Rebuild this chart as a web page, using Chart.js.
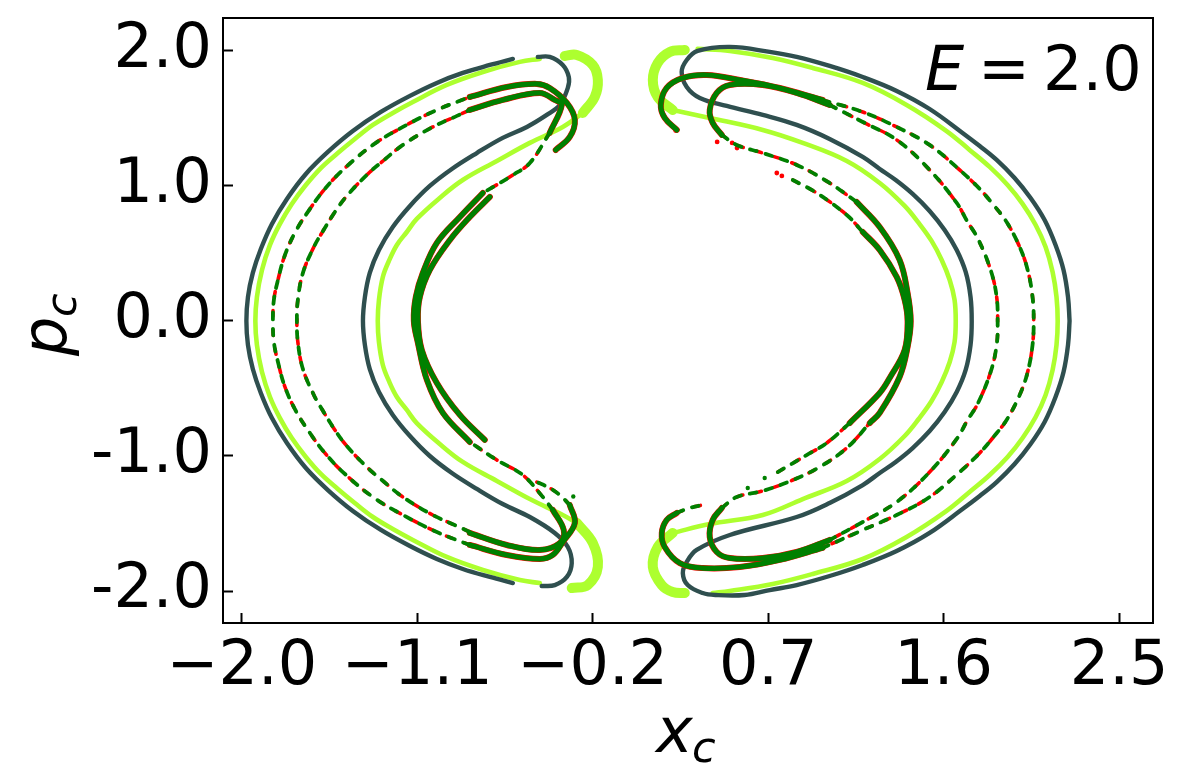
<!DOCTYPE html>
<html><head><meta charset="utf-8">
<style>html,body{margin:0;padding:0;background:#fff}canvas{display:block}</style>
<script src="https://cdn.jsdelivr.net/npm/chart.js@4"></script></head>
<body><canvas id="c" width="1189" height="784"></canvas>
<script>
const xTicks=[-2.0,-1.1,-0.2,0.7,1.6,2.5];
const yTicks=[-2.0,-1.0,0.0,1.0,2.0];

const slateLeftOuter=[[-.61,-1.941],[-.728,-1.896],[-.867,-1.837],[-1,-1.763],[-1.138,-1.667],[-1.287,-1.548],[-1.431,-1.407],[-1.559,-1.252],[-1.672,-1.089],[-1.769,-.904],[-1.846,-.719],[-1.903,-.533],[-1.944,-.356],[-1.969,-.178],[-1.977,0],[-1.969,.178],[-1.944,.356],[-1.903,.533],[-1.846,.719],[-1.769,.904],[-1.672,1.089],[-1.559,1.252],[-1.431,1.407],[-1.287,1.548],[-1.138,1.667],[-1,1.763],[-.867,1.837],[-.728,1.896],[-.61,1.941]];
const slateLeftInner=[[-.482,1.956],[-.421,1.956],[-.354,1.896],[-.323,1.807],[-.328,1.726],[-.369,1.6],[-.436,1.526],[-.538,1.437],[-.662,1.356],[-.795,1.244],[-.923,1.126],[-1.036,1],[-1.138,.852],[-1.226,.696],[-1.297,.526],[-1.344,.356],[-1.369,.178],[-1.379,0],[-1.369,-.178],[-1.344,-.356],[-1.297,-.526],[-1.226,-.696],[-1.138,-.852],[-1.036,-1],[-.923,-1.126],[-.795,-1.244],[-.662,-1.356],[-.523,-1.452],[-.395,-1.57],[-.328,-1.674],[-.308,-1.793],[-.333,-1.896],[-.395,-1.956],[-.462,-1.963]];
const slateRight=[[2.246,0],[2.238,.178],[2.215,.378],[2.174,.563],[2.118,.748],[2.046,.911],[1.964,1.059],[1.872,1.193],[1.785,1.296],[1.697,1.393],[1.528,1.57],[1.359,1.704],[1.185,1.807],[1.015,1.889],[.846,1.956],[.708,1.993],[.503,2.03],[.338,2.0],[.282,1.933],[.256,1.844],[.282,1.733],[.349,1.652],[.487,1.593],[.672,1.526],[.846,1.452],[1.015,1.348],[1.185,1.215],[1.272,1.126],[1.354,1.044],[1.441,.941],[1.528,.815],[1.605,.674],[1.667,.526],[1.713,.363],[1.738,.178],[1.744,0],[1.738,-.178],[1.713,-.363],[1.667,-.526],[1.605,-.674],[1.528,-.815],[1.441,-.941],[1.354,-1.044],[1.272,-1.126],[1.185,-1.215],[1.015,-1.348],[.846,-1.452],[.503,-1.585],[.333,-1.696],[.282,-1.785],[.262,-1.867],[.287,-1.956],[.364,-2.015],[.431,-2.03],[.579,-2.03],[.708,-1.993],[.846,-1.956],[1.015,-1.889],[1.185,-1.807],[1.359,-1.704],[1.528,-1.57],[1.697,-1.393],[1.785,-1.296],[1.872,-1.193],[1.964,-1.059],[2.046,-.911],[2.118,-.748],[2.174,-.563],[2.215,-.378],[2.238,-.178],[2.246,0]];

const limeLeftOuter=[[-.472,-1.941],[-.574,-1.919],[-.764,-1.844],[-.949,-1.748],[-1.123,-1.622],[-1.226,-1.541],[-1.328,-1.452],[-1.421,-1.348],[-1.508,-1.244],[-1.595,-1.133],[-1.672,-1.007],[-1.744,-.867],[-1.805,-.719],[-1.856,-.563],[-1.897,-.378],[-1.923,-.178],[-1.931,0],[-1.923,.178],[-1.897,.378],[-1.856,.563],[-1.805,.719],[-1.744,.867],[-1.672,1.007],[-1.595,1.133],[-1.508,1.244],[-1.421,1.348],[-1.328,1.452],[-1.226,1.541],[-1.123,1.622],[-.949,1.748],[-.764,1.844],[-.574,1.919],[-.472,1.941]];
const limeLeftInner=[[-.251,1.541],[-.354,1.437],[-.523,1.319],[-.692,1.185],[-.867,1.044],[-.985,.911],[-1.103,.756],[-1.154,.659],[-1.205,.563],[-1.246,.444],[-1.277,.326],[-1.297,.156],[-1.303,0],[-1.297,-.156],[-1.277,-.326],[-1.246,-.444],[-1.205,-.563],[-1.154,-.659],[-1.103,-.756],[-.985,-.911],[-.867,-1.044],[-.692,-1.185],[-.523,-1.319],[-.354,-1.437],[-.282,-1.496]];
const limeRight=[[.21,1.563],[.4,1.504],[.672,1.415],[.877,1.319],[1.103,1.185],[1.272,1.022],[1.4,.852],[1.472,.726],[1.538,.593],[1.59,.452],[1.631,.304],[1.656,.156],[1.662,0],[1.656,-.156],[1.631,-.304],[1.59,-.452],[1.538,-.593],[1.472,-.726],[1.4,-.852],[1.272,-1.022],[1.103,-1.185],[.877,-1.319],[.672,-1.437],[.4,-1.504],[.21,-1.57]];
const limeRightOuter=[[.338,2.015],[.503,2],[.723,1.948],[.928,1.874],[1.185,1.763],[1.41,1.6],[1.615,1.407],[1.733,1.267],[1.836,1.141],[1.928,1.007],[2.005,.867],[2.072,.711],[2.123,.548],[2.159,.363],[2.179,.178],[2.185,0],[2.179,-.178],[2.159,-.363],[2.123,-.548],[2.072,-.711],[2.005,-.867],[1.928,-1.007],[1.836,-1.141],[1.733,-1.267],[1.615,-1.407],[1.41,-1.6],[1.185,-1.763],[.928,-1.874],[.723,-1.948],[.503,-2],[.415,-2.015]];
const limeHookA=[[-.344,1.963],[-.282,1.97],[-.2,1.896],[-.174,1.785],[-.19,1.659],[-.251,1.541]];
const limeHookB=[[-.308,-1.978],[-.226,-1.956],[-.174,-1.822],[-.2,-1.644],[-.282,-1.496]];
const limeHookC=[[.272,2.007],[.195,1.993],[.133,1.911],[.108,1.785],[.133,1.659],[.21,1.563]];
const limeHookD=[[.21,-1.57],[.133,-1.674],[.108,-1.822],[.154,-1.956],[.21,-2.007],[.272,-2.015]];

const greenLeftOuterArc=[[-.831,-1.659],[-1,-1.563],[-1.174,-1.437],[-1.328,-1.304],[-1.482,-1.119],[-1.579,-.97],[-1.651,-.83],[-1.723,-.667],[-1.779,-.489],[-1.815,-.304],[-1.836,-.156],[-1.841,0],[-1.836,.156],[-1.815,.304],[-1.779,.489],[-1.723,.667],[-1.651,.83],[-1.579,.97],[-1.482,1.119],[-1.328,1.304],[-1.174,1.437],[-1,1.563],[-.831,1.659]];
const greenLeftMiddleArc=[[-.831,-1.563],[-.897,-1.519],[-1.021,-1.437],[-1.174,-1.304],[-1.282,-1.178],[-1.354,-1.089],[-1.462,-.926],[-1.523,-.807],[-1.59,-.652],[-1.631,-.548],[-1.687,-.356],[-1.713,-.156],[-1.718,0],[-1.713,.156],[-1.687,.356],[-1.631,.548],[-1.59,.652],[-1.523,.807],[-1.462,.926],[-1.354,1.089],[-1.282,1.178],[-1.174,1.304],[-1.021,1.437],[-.897,1.519],[-.831,1.563]];
const greenRightOuterArc=[[.979,1.637],[1.185,1.548],[1.359,1.437],[1.528,1.304],[1.682,1.119],[1.785,.978],[1.856,.859],[1.923,.733],[1.99,.548],[2.031,.378],[2.056,.178],[2.062,0],[2.056,-.178],[2.031,-.378],[1.99,-.548],[1.923,-.733],[1.856,-.859],[1.785,-.978],[1.682,-1.119],[1.528,-1.304],[1.359,-1.437],[1.185,-1.548],[.979,-1.681]];
const greenRightMiddleArc=[[1.015,1.6],[1.185,1.474],[1.359,1.341],[1.528,1.119],[1.667,.874],[1.723,.733],[1.774,.615],[1.841,.378],[1.872,.178],[1.877,0],[1.872,-.178],[1.841,-.378],[1.774,-.615],[1.723,-.733],[1.667,-.874],[1.528,-1.119],[1.359,-1.341],[1.185,-1.489],[1.015,-1.622]];
const greenLeftTail1=[[-.421,1.393],[-.523,1.17],[-.61,1.081],[-.764,.948]];
const greenLeftTail2=[[-.405,-1.4],[-.456,-1.304],[-.559,-1.141],[-.692,-1.03],[-.831,-.896]];
const greenLeftTail3=[[-.318,-1.363],[-.369,-1.289],[-.421,-1.237],[-.487,-1.193]];
const greenRightTail1=[[.462,1.378],[.538,1.304],[.672,1.244],[.846,1.156],[1.015,1.022],[1.154,.881]];
const greenRightTail2=[[.826,1.044],[.949,.948],[1.103,.785],[1.185,.659]];
const greenRightTail3=[[.462,-1.385],[.538,-1.304],[.672,-1.259],[.826,-1.178],[.964,-1.081],[1.103,-.941],[1.221,-.756]];
const greenRightTail4=[[.749,-1.119],[.897,-.993],[1,-.904],[1.118,-.756]];
const greenRightTail5=[[.231,-1.422],[.297,-1.385],[.385,-1.356]];

const greenLeftHook1=[[-.831,1.659],[-.641,1.733],[-.487,1.756],[-.421,1.726],[-.333,1.615],[-.292,1.489],[-.318,1.363],[-.39,1.267]];
const greenLeftHook2=[[-.831,1.563],[-.662,1.637],[-.472,1.689],[-.395,1.637],[-.359,1.6],[-.421,1.393]];
const greenLeftBody1=[[-.764,.948],[-.882,.77],[-1,.578],[-1.072,.356],[-1.108,.178],[-1.118,0],[-1.097,-.163],[-1.051,-.437],[-.969,-.681],[-.831,-.896]];
const greenLeftBody2=[[-.728,.919],[-.831,.77],[-.933,.6],[-1.036,.378],[-1.087,.178],[-1.097,0],[-1.077,-.215],[-1,-.459],[-.882,-.696],[-.754,-.881]];
const greenLeftHook3=[[-.831,-1.659],[-.641,-1.733],[-.472,-1.763],[-.405,-1.733],[-.354,-1.637],[-.292,-1.496],[-.318,-1.363]];
const greenLeftHook4=[[-.831,-1.57],[-.641,-1.659],[-.472,-1.696],[-.369,-1.644],[-.349,-1.548],[-.405,-1.4]];
const greenRightHook1=[[.231,1.415],[.169,1.504],[.149,1.6],[.179,1.726],[.262,1.8],[.385,1.822],[.554,1.785],[.759,1.726],[.979,1.637]];
const greenRightHook2=[[.462,1.378],[.415,1.467],[.4,1.563],[.436,1.689],[.503,1.748],[.672,1.748],[.846,1.689],[1.015,1.6]];
const greenRightBody1=[[1.154,.881],[1.272,.696],[1.374,.452],[1.415,.207],[1.431,0],[1.415,-.193],[1.374,-.415],[1.272,-.681],[1.221,-.756]];
const greenRightBody2=[[1.185,.659],[1.272,.526],[1.359,.326],[1.4,.156],[1.415,0],[1.4,-.215],[1.323,-.422],[1.272,-.533],[1.118,-.756]];
const greenRightHook3=[[.979,-1.681],[.759,-1.77],[.554,-1.822],[.364,-1.83],[.246,-1.793],[.169,-1.674],[.154,-1.57],[.179,-1.474],[.231,-1.422]];
const greenRightHook4=[[1.015,-1.622],[.846,-1.711],[.672,-1.756],[.503,-1.756],[.436,-1.711],[.4,-1.6],[.415,-1.474],[.462,-1.385]];

const redDots=[[.438,1.326],[.515,1.319],[.54,1.281],[.744,1.096],[.77,1.074],[-.39,1.26],[.225,1.41]];
const greenDots=[[.682,-1.163],[.595,-1.237],[-.3,-1.3]];

const join=(...a)=>{const o=[];a.forEach((s,i)=>{if(i)o.push({x:null,y:null});s.forEach(p=>o.push({x:p[0],y:p[1]}));});return o;};
const line=(label,data,color,w,dash)=>({label,data,borderColor:color,backgroundColor:color,borderWidth:w,borderDash:dash||[],showLine:true,tension:.38,pointRadius:0,spanGaps:false,borderCapStyle:'round',borderJoinStyle:'round'});
const dots=(label,d,color,r)=>({label,data:join(d),showLine:false,pointRadius:r,pointBorderWidth:0,backgroundColor:color,borderColor:color});

const sparse=[greenLeftOuterArc,greenLeftMiddleArc,greenRightOuterArc,greenRightMiddleArc,greenLeftTail1,greenLeftTail2,greenLeftTail3,greenRightTail1,greenRightTail2,greenRightTail3,greenRightTail4,greenRightTail5];
const thick=[greenLeftHook1,greenLeftHook2,greenLeftBody1,greenLeftBody2,greenLeftHook3,greenLeftHook4,greenRightHook1,greenRightHook2,greenRightBody1,greenRightBody2,greenRightHook3,greenRightHook4];

// Chart.js paints the first dataset last, so this list runs from top to bottom
const datasets=[
 dots('green points',greenDots,'#008000',2.2),
 line('green hooks',join(...thick),'#008000',5.2),
 line('green arcs',join(...sparse),'#008000',3.8,[7,9]),
 dots('red points',redDots,'#ff0000',2.4),
 line('red hooks',join(...thick),'#ff0000',6),
 line('red arcs',join(...sparse),'#ff0000',3.6,[6,13]),
 line('slate',join(slateLeftOuter,slateLeftInner,slateRight),'#2f4f4f',4.4),
 line('lime hooks',join(limeHookA,limeHookB,limeHookC,limeHookD),'#adff2f',10),
 line('lime',join(limeLeftOuter,limeLeftInner,limeRight,limeRightOuter),'#adff2f',4.6)
];

const FONT='"DejaVu Sans"';
const frame={id:'frame',afterDraw(ch){
 const {ctx,chartArea:a}=ch;ctx.save();
 ctx.strokeStyle='#000';ctx.lineWidth=2;ctx.strokeRect(a.left,a.top,a.right-a.left,a.bottom-a.top);
 ctx.fillStyle='#000';ctx.textBaseline='alphabetic';ctx.textAlign='left';
 ctx.font='italic 62px '+FONT;ctx.fillText('E',925,90);
 ctx.font='62px '+FONT;ctx.fillText('=',978,90);ctx.fillText('2.0',1043,90);
 ctx.font='italic 62px '+FONT;ctx.fillText('x',656,752);
 ctx.font='italic 43px '+FONT;ctx.fillText('c',692,762);
 ctx.translate(66,356);ctx.rotate(-Math.PI/2);
 ctx.font='italic 62px '+FONT;ctx.fillText('p',0,0);
 ctx.font='italic 43px '+FONT;ctx.fillText('c',39,10);
 ctx.restore();
}};
new Chart(document.getElementById('c'),{type:'scatter',data:{datasets},plugins:[frame],options:{
 responsive:false,animation:false,events:[],
 layout:{padding:{left:0,top:18,right:36,bottom:0}},
 plugins:{legend:{display:false},tooltip:{enabled:false},title:{display:false}},
 scales:{
  x:{type:'linear',min:-2.097,max:2.674,
   afterBuildTicks:s=>{s.ticks=xTicks.map(v=>({value:v}));},
   afterFit:s=>{s.height=161;s.paddingLeft=0;s.paddingRight=0;},
   border:{display:false},
   grid:{drawOnChartArea:false,drawTicks:true,tickLength:-10,tickWidth:2,tickColor:'#000'},
   ticks:{color:'#000',font:{family:FONT,size:62},maxRotation:0,autoSkip:false,padding:18,
    callback:v=>(v<0?'\u2212':'')+Math.abs(v).toFixed(1)}},
  y:{type:'linear',min:-2.237,max:2.244,
   afterBuildTicks:s=>{s.ticks=yTicks.map(v=>({value:v}));},
   afterFit:s=>{s.width=223;s.paddingTop=0;s.paddingBottom=0;},
   border:{display:false},
   grid:{drawOnChartArea:false,drawTicks:true,tickLength:-10,tickWidth:2,tickColor:'#000'},
   ticks:{color:'#000',font:{family:FONT,size:62},autoSkip:false,padding:21,
    callback:v=>v.toFixed(1)}}
 }}});
</script></body></html>
